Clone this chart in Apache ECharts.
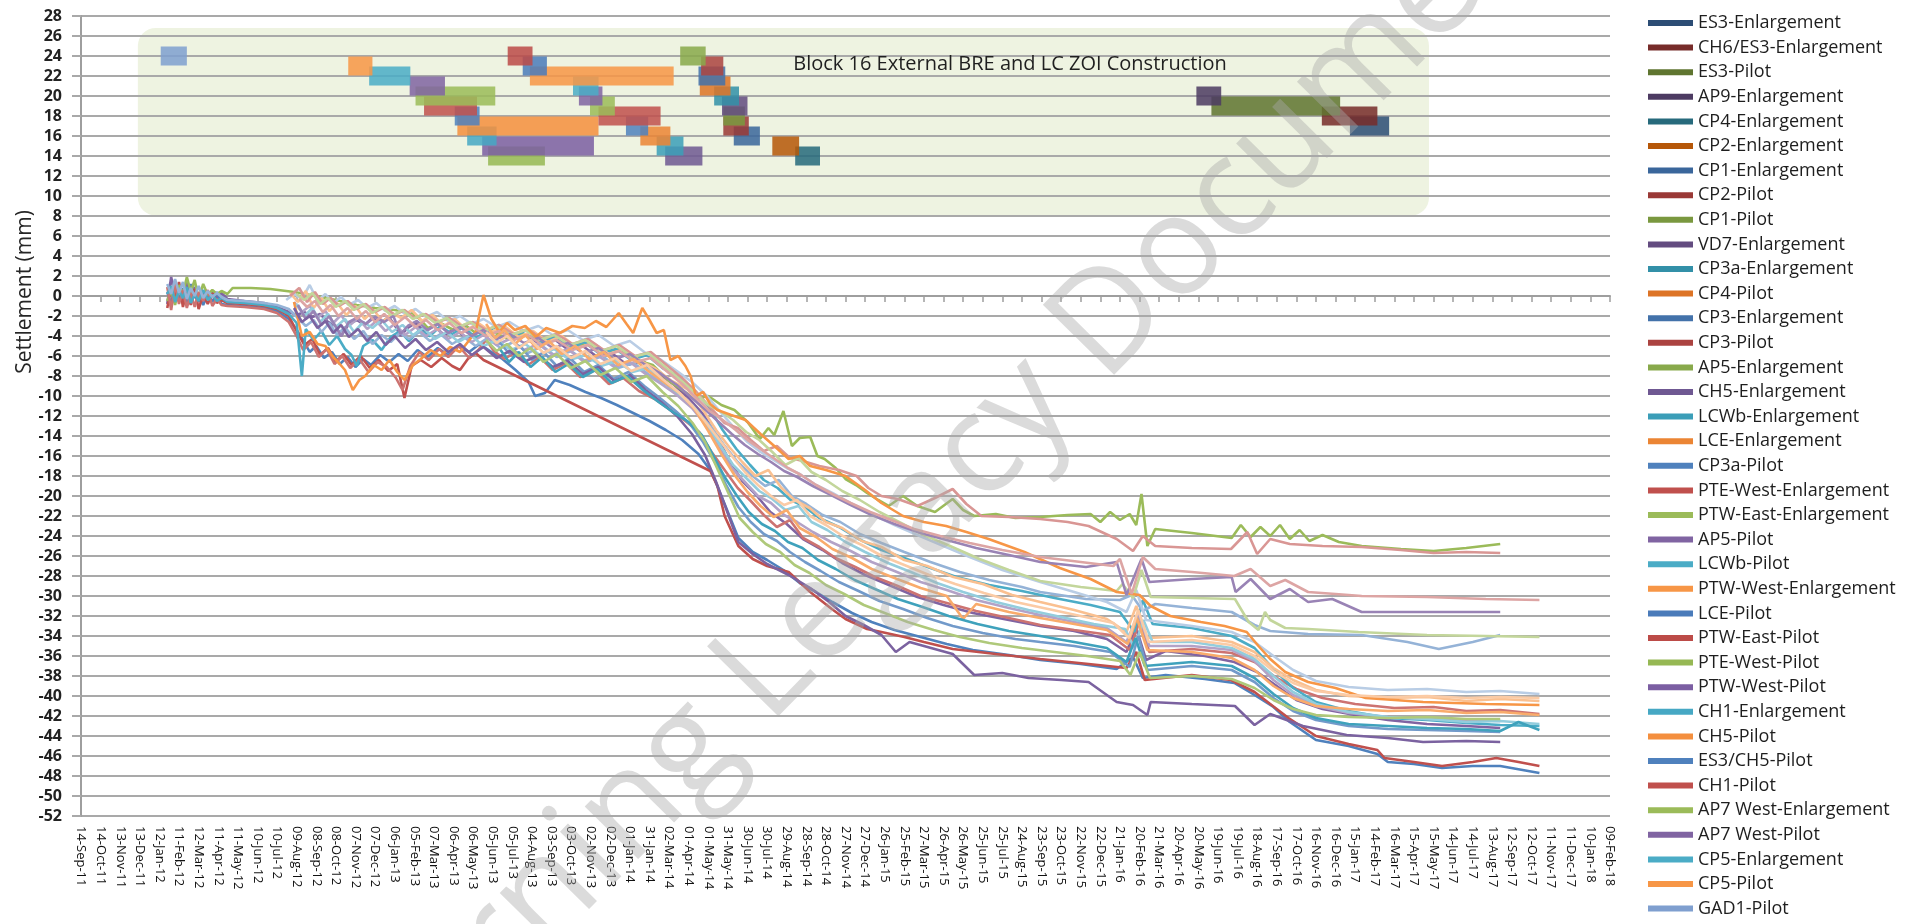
<!DOCTYPE html>
<html>
<head>
<meta charset="utf-8">
<title>Block 16 settlement</title>
<script src="https://cdn.jsdelivr.net/npm/echarts@6.0.0/dist/echarts.min.js"></script>
<style>
html, body { margin: 0; padding: 0; background: #ffffff; }
#main { width: 1928px; height: 924px; }
</style>
</head>
<body>
<div id="main"></div>
<script>
// x axis counts days from 14-Sep-11, a label every 30 days
var tickLabels = ['14-Sep-11','14-Oct-11','13-Nov-11','13-Dec-11','12-Jan-12','11-Feb-12','12-Mar-12','11-Apr-12','11-May-12','10-Jun-12','10-Jul-12','09-Aug-12','08-Sep-12','08-Oct-12','07-Nov-12','07-Dec-12','06-Jan-13','05-Feb-13','07-Mar-13','06-Apr-13','06-May-13','05-Jun-13','05-Jul-13','04-Aug-13','03-Sep-13','03-Oct-13','02-Nov-13','02-Dec-13','01-Jan-14','31-Jan-14','02-Mar-14','01-Apr-14','01-May-14','31-May-14','30-Jun-14','30-Jul-14','29-Aug-14','28-Sep-14','28-Oct-14','27-Nov-14','27-Dec-14','26-Jan-15','25-Feb-15','27-Mar-15','26-Apr-15','26-May-15','25-Jun-15','25-Jul-15','24-Aug-15','23-Sep-15','23-Oct-15','22-Nov-15','22-Dec-15','21-Jan-16','20-Feb-16','21-Mar-16','20-Apr-16','20-May-16','19-Jun-16','19-Jul-16','18-Aug-16','17-Sep-16','17-Oct-16','16-Nov-16','16-Dec-16','15-Jan-17','14-Feb-17','16-Mar-17','15-Apr-17','15-May-17','14-Jun-17','14-Jul-17','13-Aug-17','12-Sep-17','12-Oct-17','11-Nov-17','11-Dec-17','10-Jan-18','09-Feb-18'];

// construction periods (day from / day to) and the level each bar sits at
var blockNames = ['ES3-Enlargement','CH6/ES3-Enlargement','ES3-Pilot','AP9-Enlargement','CP4-Enlargement','CP2-Enlargement','CP1-Enlargement','CP2-Pilot','CP1-Pilot','VD7-Enlargement','CP3a-Enlargement','CP4-Pilot','CP3-Enlargement','CP3-Pilot','AP5-Enlargement','CH5-Enlargement','LCWb-Enlargement','LCE-Enlargement','CP3a-Pilot','PTE-West-Enlargement','PTW-East-Enlargement','AP5-Pilot','LCWb-Pilot','PTW-West-Enlargement','LCE-Pilot','PTW-East-Pilot','PTE-West-Pilot','PTW-West-Pilot','CH1-Enlargement','CH5-Pilot','ES3/CH5-Pilot','CH1-Pilot','AP7 West-Enlargement','AP7 West-Pilot','CP5-Enlargement','CP5-Pilot','GAD1-Pilot'];
var blockStart = [1942,1899,1730,1707,1093,1058,999,983,983,981,969,947,945,949,917,894,881,856,834,792,779,762,753,687,676,653,623,614,591,576,572,525,512,503,441,409,122];
var blockEnd   = [2002,1984,1927,1745,1131,1099,1039,1022,1016,1020,1007,994,986,983,956,951,922,902,868,887,817,798,792,907,713,691,710,785,636,792,610,606,634,557,504,446,162];
var blockLevel = [17,18,19,20,14,15,16,17,18,19,20,21,22,23,24,14,15,16,17,18,19,20,21,22,23,24,14,15,16,17,18,19,20,21,22,23,24];

var blockColors = ['#2C4D75','#772C2A','#5F7530','#4D3B62','#276A7C','#B65708',
  '#3A669B','#9A3936','#7A983F','#634C80','#3290A8','#DD7426',
  '#4372AA','#AB4340','#88A94B','#6F5892','#3B9EB8','#EB8534',
  '#4F81BD','#C0504D','#9BBB59','#8064A2','#4BACC6','#F79646',
  '#4A7BBA','#BC4B48','#96B854','#7B5EA2','#46A8C4','#F48F3E',
  '#4F81BD','#C0504D','#9BBB59','#8064A2','#4BACC6','#F79646','#7F9FCF'];

// settlement readings, [day, mm]
var settle01 = [[132,-0.8],[138,1.9],[144,0.1],[150,1.2],[156,-0.4],[162,1.6],[168,-0.2],[174,0.9],[180,-0.6],[187,0.5],[194,-0.3],[201,0.4],[208,-0.2],[215,0.3],[224,-0.3],[250,-0.5],[280,-0.7],[300,-1.1],[318,-1.6],[330,-1.9],[342,-1.6],[354,-2.1],[366,-1.8],[378,-2.6],[390,-3.0],[398,-4.0],[410,-2.8],[422,-2.4],[434,-2.9],[446,-2.2],[458,-2.7],[471,-2.1],[480,-2.9],[489,-4.0],[500,-3.2],[512,-2.7],[526,-3.6],[540,-3.0],[556,-3.9],[572,-3.3],[590,-4.2],[606,-3.6],[622,-3.9],[640,-3.4],[660,-4.4],[680,-3.9],[702,-4.8],[724,-4.3],[746,-5.4],[768,-5.0],[790,-6.1],[812,-5.7],[836,-6.9],[860,-6.5],[884,-7.8],[908,-8.9],[930,-10.2],[952,-11.8],[972,-13.9],[992,-16.4],[1012,-18.5],[1032,-19.8],[1055,-21.6],[1080,-22.8],[1105,-24.3],[1135,-25.4],[1165,-26.7],[1200,-27.9],[1240,-29.0],[1280,-30.1],[1320,-30.9],[1365,-31.7],[1420,-32.4],[1468,-33.0],[1520,-33.5],[1570,-34.3],[1600,-35.6],[1615,-33.2],[1630,-36.4],[1660,-35.5],[1720,-36.0],[1765,-36.6],[1800,-37.6],[1830,-39.0],[1860,-40.4],[1900,-41.3],[1950,-41.9],[2000,-42.4],[2060,-42.8],[2120,-43.0],[2172,-43.2]];
var settle02 = [[132,0.4],[138,-0.9],[144,1.5],[150,-0.6],[156,0.8],[162,-1.0],[168,1.2],[174,-0.2],[180,0.3],[187,-0.9],[194,0.2],[201,-0.6],[208,0.4],[215,-0.8],[224,-0.9],[250,-1.0],[280,-1.2],[300,-1.5],[318,-2.3],[330,-3.4],[340,-4.4],[350,-5.6],[360,-5.0],[372,-6.2],[384,-5.6],[396,-6.8],[408,-6.1],[420,-7.1],[432,-6.3],[444,-6.9],[458,-5.9],[472,-6.6],[486,-5.8],[500,-6.5],[515,-5.4],[530,-6.1],[546,-5.2],[562,-5.9],[578,-5.0],[594,-5.6],[610,-4.8],[626,-5.5],[645,-6.3],[665,-7.4],[685,-8.6],[695,-10.0],[710,-9.7],[725,-8.4],[748,-8.9],[772,-9.6],[796,-10.2],[820,-10.9],[845,-11.7],[870,-12.5],[895,-13.4],[920,-14.4],[945,-15.8],[965,-17.6],[985,-20.8],[1006,-24.2],[1028,-25.6],[1050,-26.4],[1075,-27.4],[1100,-28.7],[1125,-29.6],[1150,-30.6],[1180,-31.7],[1210,-32.6],[1245,-33.4],[1285,-34.1],[1325,-34.8],[1365,-35.4],[1420,-35.9],[1468,-36.4],[1530,-36.8],[1585,-37.3],[1610,-36.1],[1625,-38.2],[1660,-37.9],[1720,-38.3],[1765,-38.7],[1796,-39.9],[1825,-41.1],[1850,-42.6],[1890,-44.4],[1940,-45.0],[1984,-45.8],[2000,-46.6],[2040,-46.8],[2083,-47.2],[2130,-47.0],[2172,-47.0],[2232,-47.7]];
var settle03 = [[132,-1.2],[138,0.8],[144,-0.4],[150,1.4],[156,-1.1],[162,0.5],[168,-0.9],[174,0.7],[180,-1.3],[187,0.1],[194,-0.8],[201,0.3],[208,-0.7],[215,-0.4],[224,-0.7],[250,-0.8],[280,-1.0],[300,-1.3],[318,-2.0],[330,-3.5],[342,-4.9],[354,-4.3],[366,-5.9],[378,-5.2],[390,-6.6],[402,-5.8],[414,-6.9],[428,-6.0],[442,-7.2],[456,-6.4],[470,-7.5],[484,-6.8],[495,-10.2],[506,-7.0],[520,-6.4],[536,-7.1],[552,-6.2],[568,-7.0],[580,-7.4],[592,-6.3],[604,-5.7],[616,-6.4],[963,-17.5],[974,-19.0],[985,-22.0],[1006,-25.0],[1028,-26.3],[1050,-27.0],[1083,-27.6],[1116,-29.6],[1149,-31.3],[1170,-32.3],[1203,-33.3],[1225,-33.6],[1260,-34.1],[1290,-34.6],[1334,-35.3],[1400,-35.8],[1468,-36.3],[1542,-36.8],[1600,-37.2],[1615,-35.6],[1628,-38.4],[1700,-37.9],[1760,-38.4],[1796,-39.6],[1820,-40.8],[1848,-42.2],[1890,-44.0],[1940,-44.8],[1984,-45.4],[1995,-46.2],[2040,-46.6],[2083,-47.0],[2130,-46.6],[2166,-46.2],[2200,-46.6],[2232,-47.0]];
var settle04 = [[132,-0.5],[138,0.6],[144,-0.9],[150,1.1],[156,0.2],[162,1.9],[168,0.4],[174,1.6],[180,-0.3],[187,1.2],[194,0.1],[201,0.6],[208,0.2],[215,0.5],[224,0.2],[232,0.8],[260,0.8],[290,0.7],[326,0.4],[360,0.0],[390,-0.4],[422,-0.9],[450,-1.2],[480,-1.4],[507,-1.7],[520,-2.4],[531,-3.2],[550,-2.7],[570,-3.4],[590,-3.0],[604,-3.7],[625,-3.4],[650,-4.2],[675,-3.8],[700,-4.4],[725,-4.1],[750,-5.0],[775,-4.7],[800,-5.6],[825,-5.3],[850,-6.4],[875,-6.9],[900,-8.5],[920,-9.4],[940,-10.3],[960,-10.0],[980,-10.9],[1000,-11.4],[1020,-12.6],[1039,-14.3],[1052,-13.2],[1061,-13.9],[1075,-11.5],[1088,-15.0],[1100,-14.2],[1116,-14.1],[1127,-16.0],[1138,-16.3],[1155,-17.2],[1170,-18.3],[1186,-18.9],[1203,-19.7],[1220,-20.4],[1236,-21.0],[1258,-20.0],[1280,-21.0],[1307,-21.6],[1334,-20.3],[1350,-21.4],[1367,-22.0],[1400,-21.8],[1430,-22.2],[1468,-22.1],[1510,-21.9],[1545,-21.8],[1560,-22.6],[1575,-21.6],[1590,-22.4],[1605,-21.8],[1615,-22.9],[1623,-19.8],[1632,-25.0],[1644,-23.3],[1700,-23.7],[1761,-24.2],[1775,-22.9],[1790,-24.1],[1805,-23.1],[1820,-24.0],[1835,-22.9],[1850,-24.3],[1865,-23.4],[1880,-24.5],[1900,-23.9],[1925,-24.6],[1960,-25.0],[2020,-25.3],[2070,-25.5],[2120,-25.2],[2172,-24.8]];
var settle05 = [[132,0.9],[138,-1.4],[144,1.2],[150,-0.8],[156,0.6],[162,-1.2],[168,0.3],[174,-1.1],[180,0.4],[187,-0.5],[194,0.6],[201,-1.0],[208,-0.3],[215,-0.9],[224,-1.0],[250,-1.1],[280,-1.3],[300,-1.7],[318,-2.6],[330,-4.0],[340,-5.4],[352,-4.6],[364,-6.1],[376,-5.3],[388,-6.8],[400,-6.0],[412,-7.2],[426,-6.3],[440,-7.6],[454,-6.6],[468,-7.1],[482,-8.2],[492,-9.4],[504,-7.0],[518,-5.6],[532,-6.4],[548,-5.3],[562,-6.1],[578,-5.0],[594,-6.2],[608,-5.4],[620,-4.4],[632,-5.5],[648,-6.3],[666,-5.6],[684,-6.9],[702,-6.1],[722,-7.4],[742,-6.7],[764,-8.1],[786,-7.4],[808,-8.8],[830,-8.2],[854,-9.5],[878,-10.3],[902,-11.4],[925,-12.5],[946,-13.6],[965,-15.6],[985,-17.4],[1005,-19.2],[1025,-20.5],[1045,-21.9],[1065,-23.1],[1085,-22.4],[1105,-24.2],[1130,-25.1],[1155,-26.2],[1185,-27.1],[1215,-28.1],[1250,-29.0],[1285,-30.0],[1325,-30.7],[1370,-31.5],[1420,-32.2],[1468,-32.9],[1520,-33.4],[1575,-33.9],[1605,-35.4],[1620,-32.5],[1635,-35.6],[1700,-35.3],[1761,-35.7],[1796,-36.6],[1830,-38.2],[1860,-39.3],[1900,-40.2],[1950,-40.8],[2010,-41.2],[2070,-41.1],[2120,-41.5],[2172,-41.4],[2232,-41.8]];
var settle06 = [[132,0.2],[138,1.0],[144,-0.6],[150,0.5],[156,-0.2],[162,0.9],[168,-0.7],[174,0.2],[180,-0.5],[187,0.6],[194,-0.4],[201,0.1],[208,-0.5],[215,-0.2],[224,-0.6],[250,-0.7],[280,-0.9],[300,-1.2],[318,-1.8],[330,-2.7],[338,-8.0],[344,-3.3],[356,-4.4],[368,-3.5],[380,-4.9],[392,-4.0],[404,-5.3],[414,-5.9],[422,-7.0],[432,-5.0],[446,-4.4],[460,-5.4],[474,-4.1],[488,-3.5],[502,-4.5],[518,-3.4],[534,-4.0],[550,-3.0],[568,-3.8],[586,-3.1],[604,-4.2],[620,-3.6],[640,-2.9],[660,-4.1],[682,-3.4],[704,-4.6],[726,-4.0],[748,-5.2],[770,-4.6],[794,-5.8],[818,-5.3],[842,-6.4],[866,-5.9],[890,-7.2],[915,-8.1],[938,-9.4],[960,-11.0],[982,-13.4],[1003,-15.3],[1024,-16.9],[1045,-18.4],[1066,-19.2],[1086,-20.4],[1106,-21.0],[1130,-22.2],[1160,-23.1],[1190,-24.3],[1225,-25.4],[1260,-26.2],[1300,-27.2],[1340,-28.1],[1390,-28.9],[1440,-29.5],[1490,-30.2],[1545,-30.9],[1590,-31.6],[1612,-33.6],[1625,-30.4],[1640,-32.8],[1700,-33.2],[1761,-34.0],[1796,-35.2],[1825,-37.3],[1855,-39.2],[1890,-40.6],[1940,-41.5],[2000,-42.2],[2060,-42.4],[2120,-42.7],[2172,-42.9],[2232,-43.0]];
var settle07 = [[132,1.2],[138,0.2],[144,1.7],[150,0.3],[156,1.4],[162,-0.3],[168,0.8],[174,0.0],[180,1.0],[187,-0.2],[194,0.5],[201,-0.1],[208,0.3],[215,-0.1],[224,-0.4],[250,-0.5],[280,-0.7],[300,-0.9],[318,-1.3],[332,-2.2],[344,-3.0],[356,-2.4],[368,-3.6],[380,-2.7],[392,-3.9],[404,-3.1],[418,-4.3],[432,-3.5],[446,-4.8],[460,-3.9],[474,-4.6],[488,-3.7],[502,-4.3],[518,-3.6],[534,-4.5],[550,-3.8],[568,-4.8],[586,-4.1],[604,-5.0],[622,-4.2],[642,-5.2],[662,-4.6],[684,-5.7],[706,-5.0],[728,-6.1],[750,-5.5],[774,-6.6],[798,-6.0],[822,-7.2],[846,-6.7],[870,-7.9],[894,-8.8],[918,-10.0],[940,-11.3],[962,-12.9],[984,-14.9],[1005,-16.6],[1026,-17.9],[1047,-19.0],[1068,-18.4],[1088,-20.0],[1110,-20.8],[1135,-21.9],[1162,-22.6],[1192,-23.8],[1225,-24.7],[1260,-25.6],[1300,-26.6],[1345,-27.6],[1390,-28.4],[1440,-29.1],[1468,-29.6],[1538,-30.3],[1590,-30.4],[1608,-29.9],[1625,-31.5],[1644,-30.8],[1700,-31.2],[1761,-31.6],[1796,-32.9],[1820,-33.5],[1878,-33.8],[1960,-33.9],[2030,-34.6],[2078,-35.3],[2130,-34.6],[2172,-33.9]];
var settle08 = [[314,-0.4],[326,0.2],[338,-0.3],[350,1.1],[362,-0.5],[374,0.2],[386,-0.7],[398,-0.1],[410,-0.9],[424,-0.4],[438,-1.2],[452,-0.7],[466,-1.5],[480,-1.0],[496,-1.8],[512,-1.3],[528,-2.1],[545,-1.6],[562,-2.5],[580,-2.0],[598,-2.8],[616,-2.3],[636,-3.1],[656,-2.6],[678,-3.5],[700,-3.0],[722,-3.9],[745,-3.4],[768,-4.4],[792,-3.9],[816,-5.0],[840,-4.5],[864,-5.7],[888,-6.4],[912,-7.5],[935,-8.6],[958,-10.0],[980,-11.7],[1000,-13.2],[1020,-14.6],[1040,-15.6],[1060,-16.4],[1080,-17.2],[1100,-17.8],[1125,-18.9],[1150,-19.7],[1180,-20.8],[1210,-21.8],[1245,-22.9],[1280,-23.9],[1320,-25.0],[1360,-26.1],[1410,-27.4],[1468,-28.6],[1520,-29.6],[1570,-30.6],[1600,-31.6],[1615,-29.4],[1630,-32.4],[1700,-33.0],[1761,-33.6],[1796,-34.6],[1825,-36.0],[1855,-37.4],[1890,-38.5],[1940,-39.1],[2000,-39.4],[2060,-39.3],[2120,-39.6],[2172,-39.5],[2232,-39.8]];
var settle09 = [[320,0.3],[332,-0.6],[344,0.5],[356,-1.2],[368,-0.2],[380,-1.5],[392,-0.7],[406,-1.9],[420,-1.0],[434,-2.3],[448,-1.4],[462,-2.6],[476,-1.7],[490,-2.2],[506,-1.4],[522,-2.5],[538,-1.9],[555,-3.0],[572,-2.3],[590,-3.4],[608,-2.7],[628,-3.6],[648,-3.0],[670,-4.1],[692,-3.5],[714,-4.6],[736,-4.0],[760,-5.2],[784,-4.7],[808,-5.8],[832,-5.3],[856,-6.5],[880,-7.3],[904,-8.5],[928,-9.3],[950,-11.2],[972,-13.4],[992,-15.1],[1012,-16.6],[1032,-18.0],[1052,-17.4],[1072,-19.2],[1092,-20.4],[1115,-21.2],[1140,-22.6],[1165,-23.2],[1195,-24.5],[1225,-25.1],[1260,-26.4],[1295,-27.0],[1335,-28.1],[1380,-28.8],[1425,-29.9],[1468,-30.6],[1520,-31.4],[1570,-32.3],[1600,-33.6],[1615,-31.0],[1632,-34.2],[1700,-34.0],[1761,-34.6],[1796,-35.6],[1825,-37.2],[1855,-38.4],[1890,-39.4],[1940,-40.0],[2000,-40.2],[2060,-40.1],[2120,-40.5],[2172,-40.3],[2232,-40.5]];
var settle10 = [[320,0.0],[334,0.8],[346,-0.6],[358,0.4],[370,-0.8],[382,-0.2],[395,-1.0],[408,-0.5],[422,-1.3],[436,-0.8],[450,-1.6],[465,-1.1],[480,-1.9],[495,-1.4],[510,-2.2],[528,-1.8],[546,-2.6],[564,-2.2],[582,-3.0],[600,-2.6],[620,-3.4],[640,-2.9],[662,-3.8],[684,-3.3],[706,-4.3],[728,-3.8],[752,-4.8],[776,-4.3],[800,-5.4],[824,-4.9],[848,-6.0],[872,-5.6],[896,-6.9],[920,-8.2],[942,-9.6],[965,-11.3],[985,-12.7],[1005,-13.2],[1025,-14.4],[1045,-15.5],[1065,-15.0],[1085,-16.2],[1105,-16.5],[1130,-17.0],[1160,-17.4],[1187,-18.0],[1205,-19.2],[1225,-20.0],[1250,-20.3],[1280,-21.0],[1307,-20.2],[1334,-19.3],[1355,-20.8],[1378,-22.0],[1420,-22.1],[1468,-22.3],[1510,-22.6],[1542,-23.0],[1585,-24.3],[1610,-25.5],[1625,-24.0],[1644,-25.0],[1700,-25.2],[1760,-25.3],[1785,-23.6],[1800,-25.8],[1820,-24.3],[1850,-24.8],[1900,-25.0],[1960,-25.1],[2020,-25.4],[2070,-25.7],[2120,-25.6],[2172,-25.7]];
var settle11 = [[326,-0.6],[338,-1.6],[350,-1.0],[362,-2.2],[374,-1.5],[386,-2.7],[398,-1.9],[410,-3.0],[424,-2.2],[438,-3.3],[452,-2.5],[466,-3.5],[480,-2.8],[496,-3.9],[512,-3.1],[528,-4.0],[545,-3.3],[562,-4.3],[580,-3.6],[598,-4.6],[616,-3.9],[636,-4.9],[656,-4.3],[678,-5.4],[700,-4.8],[722,-5.9],[745,-5.3],[768,-6.5],[792,-6.0],[816,-7.1],[840,-6.6],[864,-7.8],[888,-8.8],[912,-9.9],[935,-11.2],[956,-12.9],[976,-15.1],[996,-17.2],[1016,-18.6],[1036,-20.0],[1056,-20.7],[1076,-21.9],[1096,-22.6],[1120,-23.6],[1148,-24.6],[1178,-25.5],[1210,-26.6],[1245,-27.5],[1285,-28.6],[1325,-29.4],[1370,-30.4],[1420,-31.2],[1468,-31.9],[1520,-32.6],[1570,-33.2],[1600,-34.6],[1618,-31.8],[1635,-35.0],[1700,-35.0],[1761,-35.4],[1796,-36.5],[1825,-38.4],[1855,-39.9],[1890,-41.0],[1940,-41.7],[2000,-42.1],[2060,-42.3],[2120,-42.4],[2172,-42.5]];
var settle12 = [[330,0.2],[342,-0.4],[354,0.3],[366,-0.8],[378,-0.2],[390,-1.1],[404,-0.5],[418,-1.4],[432,-0.8],[446,-1.7],[460,-1.1],[476,-2.0],[492,-1.4],[508,-2.3],[524,-1.8],[542,-2.7],[560,-2.2],[578,-3.1],[596,-2.6],[616,-3.5],[636,-3.0],[658,-3.9],[680,-3.4],[702,-4.4],[724,-3.9],[748,-4.9],[772,-4.4],[796,-5.5],[820,-5.0],[844,-6.1],[868,-5.7],[892,-7.0],[916,-8.3],[938,-9.6],[958,-10.8],[978,-11.5],[998,-12.4],[1018,-13.6],[1038,-14.4],[1058,-15.6],[1078,-16.9],[1098,-16.2],[1118,-17.6],[1140,-18.4],[1165,-19.5],[1192,-20.4],[1222,-21.6],[1255,-22.7],[1290,-23.9],[1330,-25.0],[1375,-26.3],[1420,-27.4],[1468,-28.5],[1530,-29.1],[1585,-29.5],[1594,-28.8],[1610,-30.2],[1623,-27.4],[1637,-30.1],[1700,-30.2],[1766,-30.3],[1787,-32.6],[1802,-33.4],[1812,-31.6],[1820,-32.4],[1843,-33.2],[1878,-33.3],[1955,-33.6],[2060,-33.9],[2150,-34.0],[2232,-34.1]];
var settle13 = [[326,-0.6],[338,-4.0],[350,-3.6],[362,-4.8],[374,-5.0],[386,-6.1],[396,-6.8],[404,-7.4],[416,-9.4],[426,-8.4],[435,-8.0],[448,-6.9],[460,-7.4],[472,-6.4],[484,-7.6],[495,-8.4],[508,-6.9],[520,-6.3],[535,-5.4],[550,-6.0],[565,-5.1],[580,-5.6],[592,-4.6],[604,-3.6],[616,0.1],[628,-2.3],[640,-3.6],[652,-2.7],[664,-3.4],[680,-3.0],[696,-4.1],[712,-3.2],[733,-3.7],[752,-3.0],[771,-3.2],[788,-2.5],[804,-3.1],[823,-1.7],[835,-2.8],[845,-3.7],[859,-1.2],[870,-2.4],[881,-3.7],[892,-3.4],[902,-6.4],[914,-6.0],[925,-7.0],[933,-8.0],[941,-10.0],[952,-9.6],[963,-10.8],[974,-11.4],[995,-11.9],[1017,-12.4],[1040,-13.8],[1061,-15.0],[1083,-16.3],[1100,-16.0],[1116,-17.0],[1140,-17.4],[1170,-18.0],[1200,-19.4],[1225,-20.7],[1258,-22.0],[1290,-22.6],[1324,-23.0],[1355,-23.6],[1389,-24.3],[1444,-25.6],[1498,-27.2],[1545,-28.3],[1585,-29.6],[1620,-29.9],[1637,-31.0],[1667,-32.0],[1714,-32.6],[1750,-33.0],[1784,-33.6],[1802,-35.0],[1820,-36.3],[1843,-37.6],[1878,-38.6],[1920,-39.2],[1966,-40.2],[2054,-40.6],[2150,-40.8],[2232,-40.9]];
var settle14 = [[330,-0.8],[342,-2.0],[354,-1.2],[366,-2.6],[378,-1.8],[390,-3.1],[404,-2.3],[418,-3.6],[432,-2.6],[446,-3.2],[460,-2.4],[476,-3.6],[492,-2.9],[508,-3.9],[524,-3.2],[542,-4.3],[560,-3.6],[578,-4.6],[596,-3.9],[616,-5.0],[636,-4.4],[658,-5.4],[680,-4.8],[702,-5.9],[724,-5.3],[748,-6.4],[772,-5.9],[796,-7.0],[820,-6.5],[844,-7.6],[868,-7.2],[892,-8.6],[916,-9.8],[938,-11.1],[958,-12.8],[978,-14.9],[998,-16.9],[1018,-18.2],[1038,-19.5],[1058,-20.3],[1078,-21.4],[1098,-21.0],[1118,-22.6],[1142,-23.4],[1170,-24.6],[1200,-25.6],[1235,-26.7],[1270,-27.6],[1310,-28.7],[1350,-29.6],[1400,-30.6],[1450,-31.4],[1500,-32.1],[1550,-32.8],[1598,-33.3],[1612,-35.2],[1626,-32.4],[1640,-34.6],[1700,-34.6],[1761,-35.2],[1796,-36.3],[1825,-38.0],[1855,-39.6],[1890,-40.8],[1940,-41.6],[2000,-42.1],[2060,-42.3],[2120,-42.6],[2172,-42.5],[2232,-42.8]];
var settle15 = [[332,-0.9],[344,-2.3],[356,-1.5],[368,-2.9],[380,-2.0],[392,-3.3],[398,-4.0],[410,-2.6],[422,-2.2],[436,-2.8],[450,-2.1],[464,-2.6],[478,-2.0],[489,-3.8],[500,-3.0],[514,-2.5],[530,-3.4],[546,-2.8],[562,-3.7],[580,-3.1],[598,-4.0],[616,-3.4],[636,-4.3],[656,-3.8],[678,-4.7],[700,-4.2],[722,-5.2],[745,-4.7],[768,-5.7],[792,-5.2],[816,-6.3],[840,-5.8],[864,-6.9],[888,-7.8],[912,-8.9],[935,-10.2],[956,-11.4],[976,-12.6],[996,-13.8],[1016,-14.9],[1036,-15.8],[1056,-16.6],[1076,-17.5],[1096,-18.1],[1120,-19.0],[1148,-19.9],[1178,-20.9],[1210,-21.9],[1245,-22.8],[1285,-23.7],[1325,-24.4],[1370,-25.2],[1420,-25.9],[1468,-26.6],[1538,-27.1],[1585,-26.6],[1600,-29.9],[1623,-26.3],[1635,-28.6],[1700,-28.3],[1761,-28.1],[1767,-29.6],[1790,-28.3],[1820,-30.3],[1850,-29.3],[1878,-30.6],[1915,-30.3],[1960,-31.6],[2060,-31.6],[2172,-31.6]];
var settle16 = [[334,-0.3],[346,-1.1],[358,-0.5],[370,-1.6],[382,-0.9],[394,-2.0],[408,-1.2],[422,-2.3],[436,-1.5],[450,-2.6],[464,-1.8],[480,-2.9],[496,-2.1],[512,-3.1],[528,-2.4],[546,-3.4],[564,-2.7],[582,-3.7],[600,-3.1],[620,-4.0],[640,-3.5],[662,-4.4],[684,-3.9],[706,-4.9],[728,-4.4],[752,-5.4],[776,-4.9],[800,-6.0],[824,-5.5],[848,-6.6],[872,-6.2],[896,-7.5],[920,-8.8],[942,-10.2],[962,-11.5],[982,-12.4],[1002,-13.4],[1022,-14.5],[1042,-15.4],[1062,-16.3],[1082,-17.2],[1102,-17.9],[1125,-18.9],[1150,-19.8],[1178,-20.7],[1208,-21.6],[1240,-22.4],[1275,-23.3],[1315,-24.0],[1360,-24.7],[1410,-25.4],[1468,-26.1],[1530,-26.6],[1580,-27.0],[1590,-26.3],[1608,-29.8],[1625,-26.1],[1644,-27.3],[1700,-27.6],[1765,-28.0],[1790,-27.3],[1820,-29.0],[1843,-28.4],[1878,-29.6],[1920,-29.8],[1960,-30.0],[2060,-30.1],[2150,-30.3],[2232,-30.4]];
var settle17 = [[620,-2.8],[634,-4.2],[648,-3.4],[664,-4.8],[680,-3.9],[698,-5.3],[716,-4.5],[736,-5.8],[756,-5.0],[778,-6.3],[800,-5.6],[822,-6.9],[846,-6.3],[870,-7.6],[894,-8.7],[918,-9.8],[940,-11.4],[960,-13.5],[980,-15.8],[1000,-17.9],[1020,-19.6],[1040,-21.0],[1060,-22.1],[1080,-21.4],[1100,-23.2],[1125,-24.1],[1150,-25.3],[1180,-26.2],[1210,-27.3],[1245,-28.2],[1285,-29.2],[1325,-30.0],[1350,-32.3],[1370,-30.8],[1420,-31.6],[1468,-32.2],[1520,-32.8],[1570,-33.4],[1602,-34.8],[1616,-32.2],[1632,-35.4],[1700,-35.6],[1761,-36.2],[1796,-37.4],[1825,-39.0],[1855,-40.2],[1890,-41.0],[1940,-41.3],[2000,-41.5],[2060,-41.4],[2120,-41.7],[2172,-41.6],[2232,-41.9]];
var settle18 = [[640,-4.6],[656,-5.8],[672,-5.0],[690,-6.4],[708,-5.6],[728,-7.0],[748,-6.2],[770,-7.6],[792,-6.9],[815,-8.3],[838,-7.6],[862,-9.0],[886,-10.2],[910,-11.5],[932,-12.8],[952,-14.6],[970,-16.6],[988,-19.0],[1006,-21.1],[1025,-22.6],[1045,-23.8],[1065,-24.5],[1085,-25.6],[1108,-26.6],[1132,-27.5],[1160,-28.6],[1190,-29.5],[1222,-30.5],[1258,-31.3],[1295,-32.2],[1334,-33.0],[1380,-33.7],[1430,-34.3],[1468,-34.6],[1520,-35.0],[1575,-35.6],[1605,-37.1],[1618,-34.0],[1632,-37.4],[1700,-37.0],[1761,-37.4],[1796,-38.6],[1825,-40.2],[1855,-41.5],[1890,-42.4],[1940,-43.0],[2000,-43.3],[2060,-43.4],[2120,-43.5],[2172,-43.6]];
var settle19 = [[326,-1.2],[338,-2.6],[350,-2.0],[362,-3.2],[374,-2.5],[386,-3.7],[398,-2.9],[410,-4.1],[424,-3.3],[438,-4.5],[452,-3.6],[466,-4.9],[480,-4.0],[496,-5.2],[512,-4.3],[528,-5.4],[545,-4.6],[562,-5.6],[580,-4.8],[598,-5.9],[616,-5.1],[636,-6.2],[656,-5.5],[678,-6.6],[700,-5.9],[722,-7.1],[745,-6.5],[768,-7.8],[792,-7.1],[816,-8.5],[840,-7.9],[864,-9.4],[888,-10.6],[912,-12.0],[935,-13.8],[955,-15.9],[972,-18.6],[988,-21.4],[1006,-24.6],[1028,-25.8],[1050,-26.8],[1083,-27.9],[1116,-29.2],[1145,-30.6],[1170,-32.0],[1198,-32.9],[1225,-33.9],[1247,-35.6],[1268,-34.6],[1290,-35.0],[1334,-35.8],[1367,-37.9],[1410,-37.7],[1450,-38.2],[1500,-38.4],[1542,-38.6],[1585,-40.6],[1610,-40.9],[1632,-41.9],[1637,-40.6],[1700,-40.8],[1766,-41.0],[1796,-42.9],[1820,-41.8],[1870,-43.0],[1937,-43.9],[2000,-44.2],[2054,-44.6],[2120,-44.5],[2172,-44.6]];
var settle20 = [[640,-5.2],[655,-6.6],[670,-5.6],[688,-7.1],[706,-6.1],[726,-7.6],[746,-6.8],[768,-8.1],[790,-7.3],[812,-8.7],[836,-8.0],[860,-9.4],[884,-10.6],[908,-11.7],[930,-12.6],[950,-13.9],[968,-16.0],[986,-18.2],[1004,-20.0],[1022,-21.6],[1042,-22.8],[1062,-23.5],[1082,-24.6],[1104,-25.2],[1128,-26.4],[1155,-27.3],[1184,-28.4],[1215,-29.3],[1250,-30.3],[1288,-31.1],[1328,-32.0],[1372,-32.8],[1420,-33.5],[1468,-34.0],[1520,-34.6],[1570,-35.2],[1600,-36.6],[1614,-34.2],[1628,-37.0],[1700,-36.6],[1761,-37.0],[1796,-38.2],[1825,-39.8],[1855,-41.2],[1890,-42.2],[1940,-42.8],[2000,-43.0],[2060,-43.2],[2120,-43.3],[2172,-43.5],[2200,-42.6],[2232,-43.4]];
var settle21 = [[620,-4.4],[636,-5.5],[652,-4.8],[670,-6.0],[688,-5.2],[708,-6.6],[728,-5.8],[750,-7.2],[772,-6.5],[795,-7.9],[818,-7.2],[842,-8.6],[866,-8.0],[890,-9.6],[914,-11.0],[936,-12.7],[955,-14.6],[972,-17.0],[990,-19.6],[1008,-22.2],[1028,-23.6],[1048,-24.8],[1070,-25.6],[1092,-26.9],[1115,-27.7],[1140,-28.9],[1168,-29.8],[1198,-30.9],[1230,-31.7],[1265,-32.6],[1305,-33.4],[1345,-34.1],[1390,-34.7],[1440,-35.2],[1490,-35.6],[1540,-36.0],[1590,-36.5],[1606,-37.9],[1620,-35.6],[1636,-38.2],[1700,-38.0],[1761,-38.3],[1796,-39.2],[1825,-40.4],[1855,-41.3],[1890,-41.9],[1940,-42.1],[2000,-42.2],[2060,-42.1],[2120,-42.3],[2172,-42.3]];
var settle22 = [[620,-3.6],[636,-4.7],[652,-4.0],[670,-5.2],[688,-4.4],[708,-5.7],[728,-5.0],[750,-6.2],[772,-5.5],[795,-6.8],[818,-6.2],[842,-7.5],[866,-6.9],[890,-8.3],[914,-9.6],[936,-11.0],[956,-12.6],[976,-14.3],[996,-16.0],[1016,-17.6],[1036,-18.9],[1056,-20.0],[1076,-20.9],[1096,-20.4],[1116,-22.0],[1140,-22.9],[1166,-24.0],[1195,-24.9],[1226,-26.0],[1260,-26.9],[1298,-27.9],[1338,-28.8],[1382,-29.7],[1430,-30.6],[1480,-31.3],[1530,-32.0],[1580,-32.7],[1604,-34.2],[1618,-31.4],[1634,-34.6],[1700,-34.4],[1761,-34.9],[1796,-36.0],[1825,-37.5],[1855,-38.7],[1890,-39.5],[1940,-39.9],[2000,-40.1],[2060,-40.0],[2120,-40.2],[2172,-40.1],[2232,-40.2]];

var lineSets = [settle01, settle02, settle03, settle04, settle05, settle06, settle07, settle08, settle09, settle10, settle11,
  settle12, settle13, settle14, settle15, settle16, settle17, settle18, settle19, settle20, settle21, settle22];
var lineColors = ['#8064A2','#4F81BD','#C0504D','#9BBB59','#CD7371','#4BACC6','#95B3D7','#B9CDE5','#FAC090','#D99694','#B3A2C7',
  '#C3D69B','#F79646','#93CDDD','#9983B5','#DDA5A4','#F9AB6B','#729ACA','#7B62A0','#3FA2BC','#AFC97A','#FBCBA5'];

var chartDom = document.getElementById('main');
var myChart = echarts.init(chartDom);
var option;

var gridGrey = '#a9a9a9';
var font = 'Open Sans';

function renderBlock(params, api) {
    var p1 = api.coord([api.value(0), api.value(2) + 0.95]);
    var p2 = api.coord([api.value(1), api.value(2) - 0.95]);
    return {
        type: 'rect',
        z2: api.value(2),
        shape: { x: p1[0], y: p1[1], width: p2[0] - p1[0], height: p2[1] - p1[1] },
        style: { fill: api.visual('color'), opacity: 0.86 }
    };
}

var series = [];

// shaded construction zone behind the bars
series.push({
    type: 'custom',
    name: 'zone',
    z: -1,
    silent: true,
    data: [[87, 2063, 26.8, 8.05]],
    encode: { x: [0, 1], y: [2, 3] },
    renderItem: function (params, api) {
        var a = api.coord([api.value(0), api.value(2)]);
        var b = api.coord([api.value(1), api.value(3)]);
        return {
            type: 'rect',
            shape: { x: a[0], y: a[1], width: b[0] - a[0], height: b[1] - a[1], r: 18 },
            style: { fill: '#EEF3E1' }
        };
    }
});

blockNames.forEach(function (name, i) {
    series.push({
        type: 'custom',
        name: name,
        color: blockColors[i],
        itemStyle: { color: blockColors[i] },
        silent: true,
        data: [[blockStart[i], blockEnd[i], blockLevel[i]]],
        encode: { x: [0, 1], y: 2 },
        renderItem: renderBlock
    });
});

series.push({
    type: 'custom',
    name: 'zoneLabel',
    silent: true,
    data: [[1090, 23.2]],
    encode: { x: 0, y: 1 },
    renderItem: function (params, api) {
        var pt = api.coord([api.value(0), api.value(1)]);
        return {
            type: 'text',
            x: pt[0],
            y: pt[1],
            style: {
                text: 'Block 16 External BRE and LC ZOI Construction',
                fill: '#1f1f1f',
                fontSize: 20,
                fontFamily: font,
                align: 'left',
                verticalAlign: 'middle'
            }
        };
    }
});

lineSets.forEach(function (pts, i) {
    series.push({
        type: 'line',
        name: 'reading ' + (i + 1),
        data: pts,
        symbol: 'none',
        showSymbol: false,
        silent: true,
        z: 3,
        lineStyle: { width: 2.6, color: lineColors[i] },
        itemStyle: { color: lineColors[i] }
    });
});

option = {
    animation: false,
    backgroundColor: '#ffffff',
    grid: {
        left: 81,
        right: 318,
        top: 16,
        bottom: 108,
        containLabel: false,
        outerBoundsMode: 'none'
    },
    legend: {
        data: blockNames,
        orient: 'vertical',
        left: 1648,
        top: 14,
        padding: 0,
        icon: 'rect',
        itemWidth: 45,
        itemHeight: 6,
        itemGap: 6.6,
        selectedMode: false,
        textStyle: { fontSize: 18, lineHeight: 18, fontFamily: font, color: '#1e1e1e' }
    },
    xAxis: [
        {
            type: 'value',
            min: 0,
            max: 2340,
            interval: 30,
            position: 'bottom',
            axisLine: { show: false, onZero: false },
            axisTick: { show: false },
            splitLine: { show: false },
            axisLabel: {
                rotate: -90,
                margin: 10,
                fontSize: 13,
                fontFamily: font,
                color: '#111111',
                showMinLabel: true,
                showMaxLabel: true,
                formatter: function (v) {
                    return tickLabels[Math.round(v / 30)] || '';
                }
            }
        },
        {
            type: 'value',
            min: 0,
            max: 2340,
            interval: 30,
            position: 'bottom',
            axisLine: { show: true, onZero: true, lineStyle: { color: '#9e9e9e', width: 2 } },
            axisTick: { show: true, length: 6, lineStyle: { color: '#9e9e9e', width: 1.5 } },
            axisLabel: { show: false },
            splitLine: { show: false }
        }
    ],
    yAxis: {
        type: 'value',
        min: -52,
        max: 28,
        interval: 2,
        axisLine: { show: true, lineStyle: { color: '#9e9e9e', width: 2 } },
        axisTick: { show: true, length: 9, lineStyle: { color: gridGrey, width: 2 } },
        axisLabel: { margin: 19, fontSize: 16, fontWeight: 'bold', fontFamily: font, color: '#222222' },
        splitLine: { show: true, lineStyle: { color: gridGrey, width: 2 } }
    },
    graphic: [
        {
            type: 'text',
            x: 25,
            y: 292,
            rotation: Math.PI / 2,
            silent: true,
            style: { text: 'Settlement (mm)', fontSize: 21, fontFamily: font, fill: '#262626', align: 'center', verticalAlign: 'middle' }
        },
        {
            type: 'text',
            x: 935,
            y: 500,
            rotation: 0.794,
            z: 100,
            silent: true,
            style: { text: 'Learning Legacy Document', fontSize: 140, fontFamily: font, fill: 'rgba(170,170,170,0.42)', align: 'center', verticalAlign: 'middle' }
        }
    ],
    series: series
};

myChart.setOption(option);
</script>
</body>
</html>
